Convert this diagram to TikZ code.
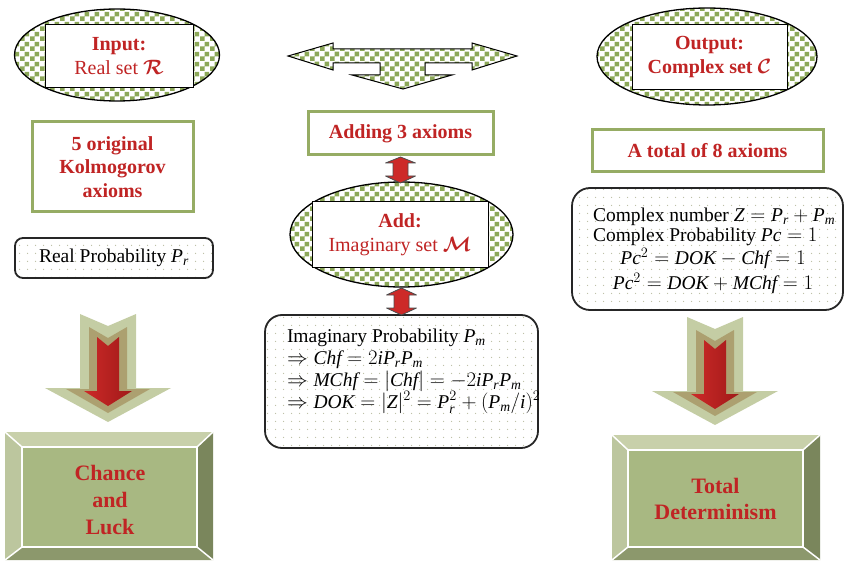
\documentclass[tikz,border=0pt]{standalone}
\usepackage{amsmath}
\usepackage{fontspec}
\setmainfont{Liberation Serif}
\usetikzlibrary{shapes.geometric,patterns}

\pgfdeclarepatternformonly{mychecker}{\pgfpointorigin}{\pgfpoint{10pt}{10pt}}{\pgfpoint{10pt}{10pt}}{%
  \pgfpathrectangle{\pgfpointorigin}{\pgfpoint{5pt}{5pt}}%
  \pgfpathrectangle{\pgfpoint{5pt}{5pt}}{\pgfpoint{5pt}{5pt}}%
  \pgfusepath{fill}}
\pgfdeclarepatternformonly{mydots}{\pgfpointorigin}{\pgfpoint{8pt}{8pt}}{\pgfpoint{8pt}{8pt}}{%
  \pgfpathcircle{\pgfpoint{4pt}{4pt}}{0.7pt}\pgfusepath{fill}}

\definecolor{txtred}{RGB}{192,36,36}
\definecolor{boxgreen}{RGB}{150,172,100}
\definecolor{chkgreen}{RGB}{140,168,88}
\definecolor{dotcol}{RGB}{185,188,160}
\definecolor{arrred}{RGB}{205,42,40}
\definecolor{arrreddark}{RGB}{160,25,25}
\definecolor{arrlight}{RGB}{196,205,164}
\definecolor{arrtan}{RGB}{172,160,112}
\definecolor{facecol}{RGB}{168,184,130}
\definecolor{bevtop}{RGB}{200,208,170}
\definecolor{bevleft}{RGB}{188,198,158}
\definecolor{bevright}{RGB}{122,134,92}
\definecolor{bevbot}{RGB}{140,152,108}

\newcommand\mitx[1]{\mathit{#1}}
\newcommand\bigdownarrow{%
  \fill[arrlight] (-28,0) -- (0,12) -- (28,0) -- (28,74) -- (63,74) -- (0,108) -- (-63,74) -- (-28,74) -- cycle;
  \fill[arrtan] (-19,13) -- (0,24) -- (19,13) -- (19,75) -- (42,75) -- (0,99) -- (-42,75) -- (-19,75) -- cycle;
  \shade[left color=arrred, right color=arrreddark] (-11,23) -- (0,32) -- (11,23) -- (11,77) -- (24,77) -- (0,92) -- (-24,77) -- (-11,77) -- cycle;
}

\tikzset{
  every node/.style={inner sep=0pt, outer sep=0pt},
  chk/.style={preaction={fill=white}, pattern=mychecker, pattern color=chkgreen, draw=black, line width=1.3pt},
  chkell/.style={ellipse, chk},
  innerbox/.style={rectangle, draw=black, line width=1pt, fill=white, align=center, text=txtred, font=\fontsize{20}{24}\selectfont},
  gbox/.style={rectangle, draw=boxgreen, line width=3pt, fill=white, align=center, text=txtred, font=\fontsize{20}{24}\selectfont\bfseries},
  dotbox/.style={rectangle, draw=black!85, line width=1.8pt, preaction={fill=white}, pattern=mydots, pattern color=dotcol},
  plaintext/.style={font=\fontsize{19.5}{22}\selectfont},
  redarrow/.style={fill=arrred, draw=black!70, line width=0.8pt, line join=round},
  facebox/.style={rectangle, fill=facecol, draw=white, line width=2pt, align=center, text=txtred, font=\fontsize{22}{27}\selectfont\bfseries},
  bevline/.style={draw=white, line width=1.5pt}
}

\begin{document}
\begin{tikzpicture}[x=1pt, y=-1pt]
\useasboundingbox (0,0) rectangle (850,561);

% ---------- Left column ----------
\node[chkell, minimum width=205pt, minimum height=92pt] (inell) at (117,55) {};
\node[innerbox, minimum width=148pt, minimum height=63pt] (inp) at (119,56.5)
  {\textbf{Input:}\\Real set $\boldsymbol{\mathcal{R}}$};

\node[gbox, minimum width=161pt, minimum height=90pt, font=\fontsize{20}{23.5}\selectfont\bfseries] (ax5) at (112.5,167)
  {5 original\\Kolmogorov\\axioms};

\node[dotbox, rounded corners=8pt, minimum width=198pt, minimum height=40pt, plaintext] (realp) at (114,258)
  {Real Probability $\mitx{P}_{\mitx{r}}$};

\begin{scope}[shift={(108,314)}]
  \bigdownarrow
\end{scope}

\fill[bevtop] (5,432) -- (213,432) -- (197,447) -- (22,447) -- cycle;
\fill[bevleft] (5,432) -- (22,447) -- (22,547) -- (5,560) -- cycle;
\fill[bevright] (213,432) -- (213,560) -- (197,547) -- (197,447) -- cycle;
\fill[bevbot] (5,560) -- (22,547) -- (197,547) -- (213,560) -- cycle;
\path[bevline] (5,432) -- (22,447) (213,432) -- (197,447) (5,560) -- (22,547) (213,560) -- (197,547);
\node[facebox, minimum width=175pt, minimum height=100pt] (chance) at (109.5,497) {};
\node[facebox, draw=none, fill=none] (chancetxt) at (110,500) {Chance\\and\\Luck};

% ---------- Middle column ----------
\draw[chk, line width=1pt, line join=miter] (288,56) -- (333,43) -- (333,49) -- (472,49) -- (472,43) -- (517,56)
  -- (472,70) -- (472,63) -- (425,63) -- (425,75) -- (452,75) -- (403,89) -- (352,75) -- (380,75)
  -- (380,63) -- (333,63) -- (333,70) -- cycle;

\node[gbox, minimum width=185pt, minimum height=43pt] (add3) at (400.5,133.5) {Adding 3 axioms};

\node[chkell, minimum width=223pt, minimum height=105pt] (addell) at (401.5,234.5) {};
\node[innerbox, minimum width=176pt, minimum height=65pt] (addr) at (400,234.5)
  {\textbf{Add:}\\Imaginary set $\boldsymbol{\mathcal{M}}$};

\node[dotbox, rounded corners=17pt, minimum width=273pt, minimum height=133pt] (imagp) at (401.5,381.5) {};
\node[plaintext, align=left, anchor=west] (imagtxt) at (287,371)
  {Imaginary Probability $\mitx{P}_{\mitx{m}}$\\
   $\Rightarrow \mitx{Chf} = 2\mitx{iP}_{\mitx{r}}\mitx{P}_{\mitx{m}}$\\
   $\Rightarrow \mitx{MChf} = |\mitx{Chf}| = -2\mitx{iP}_{\mitx{r}}\mitx{P}_{\mitx{m}}$\\
   $\Rightarrow \mitx{DOK} = |\mitx{Z}|^2 = \mitx{P}_{\mitx{r}}^2 + (\mitx{P}_{\mitx{m}}/\mitx{i})^2$};

\begin{scope}[shift={(add3.south)}]
  \draw[redarrow] (0,2) -- (15,8) -- (7.5,8) -- (7.5,21) -- (15,21) -- (0,28) -- (-15,21) -- (-7.5,21) -- (-7.5,8) -- (-15,8) -- cycle;
\end{scope}
\begin{scope}[shift={(addell.south)}]
  \draw[redarrow] (0,1) -- (15,8) -- (7.5,8) -- (7.5,21) -- (15,21) -- (0,28) -- (-15,21) -- (-7.5,21) -- (-7.5,8) -- (-15,8) -- cycle;
\end{scope}

% ---------- Right column ----------
\node[chkell, minimum width=220pt, minimum height=97pt] (outell) at (707,56.5) {};
\node[innerbox, minimum width=155pt, minimum height=65pt, font=\fontsize{20}{24}\selectfont\bfseries] (outp) at (709.5,57.5)
  {Output:\\Complex set $\boldsymbol{\mathcal{C}}$};

\node[gbox, minimum width=231pt, minimum height=42pt] (tot8) at (707.5,151) {A total of 8 axioms};

\node[dotbox, rounded corners=18pt, minimum width=271pt, minimum height=122pt] (compp) at (707.5,249) {};
\node[plaintext, align=left, anchor=west, font=\fontsize{19.5}{20.5}\selectfont] (comptxt) at (593,227)
  {Complex number $\mitx{Z} = \mitx{P}_{\mitx{r}} + \mitx{P}_{\mitx{m}}$\\
   Complex Probability $\mitx{Pc} = 1$};
\node[plaintext, align=center, font=\fontsize{19.5}{25}\selectfont] (comptxt2) at (713,271)
  {$\mitx{Pc}^2 = \mitx{DOK} - \mitx{Chf} = 1$\\
   $\mitx{Pc}^2 = \mitx{DOK} + \mitx{MChf} = 1$};

\begin{scope}[shift={(715,317)}]
  \bigdownarrow
\end{scope}

\fill[bevtop] (612,435) -- (820,435) -- (803,450) -- (628,450) -- cycle;
\fill[bevleft] (612,435) -- (628,450) -- (628,547) -- (612,560) -- cycle;
\fill[bevright] (820,435) -- (820,560) -- (803,547) -- (803,450) -- cycle;
\fill[bevbot] (612,560) -- (628,547) -- (803,547) -- (820,560) -- cycle;
\path[bevline] (612,435) -- (628,450) (820,435) -- (803,450) (612,560) -- (628,547) (820,560) -- (803,547);
\node[facebox, minimum width=175pt, minimum height=97pt, font=\fontsize{22}{26}\selectfont\bfseries] (totdet) at (715.5,498.5)
  {Total\\Determinism};
\end{tikzpicture}
\end{document}
